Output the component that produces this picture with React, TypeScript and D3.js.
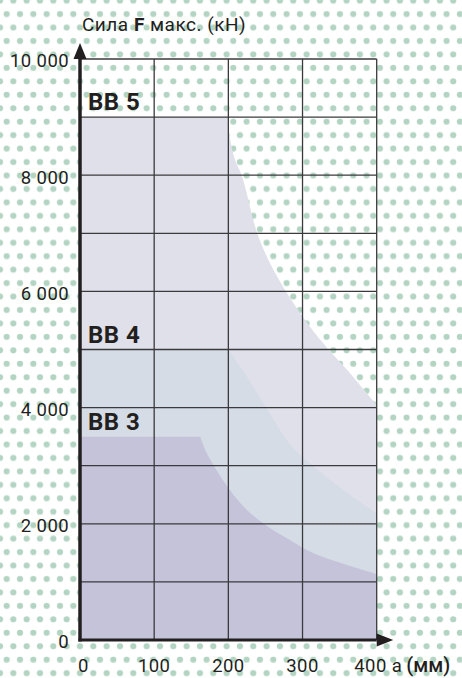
import React from 'react';
import * as d3 from 'd3';

// chart data
const xTicks = [0, 100, 200, 300, 400];
const xTickLabels = ['0', '100', '200', '300', '400'];
const yTicks = [0, 2000, 4000, 6000, 8000, 10000];
const yTickLabels = ['0', '2 000', '4 000', '6 000', '8 000', '10 000'];
const gridF = [1000, 2000, 3000, 4000, 5000, 6000, 7000, 8000, 9000, 10000];

const seriesNames = ['BB 5', 'BB 4', 'BB 3'];
const seriesColors = ['#e0e0ea', '#d5dce5', '#c5c3da'];

// a (мм) / F (кН): flat top then falling curve
const bb5A = [0, 200, 201, 209, 218, 238, 254, 270, 285, 310, 333, 360, 400];
const bb5F = [9000, 9000, 8730, 8260, 8000, 7040, 6540, 6160, 5850, 5390, 5030, 4650, 4040];
const bb4A = [0, 200, 222, 252, 279, 297, 319, 355, 400];
const bb4F = [5000, 5000, 4590, 3976, 3440, 3184, 2943, 2582, 2181];
const bb3A = [0, 162, 171, 184, 202, 225, 252, 283, 315, 360, 400];
const bb3F = [3500, 3500, 3213, 2926, 2582, 2238, 1962, 1721, 1492, 1291, 1136];

const W = 462, H = 678;
const INK = '#231f20';
const FONT = "Roboto, 'DejaVu Sans', sans-serif";

const x = d3.scaleLinear().domain([0, 400]).range([80, 376.7]);
const y = d3.scaleLinear().domain([0, 10000]).range([640, 59]);

const curveLine = d3.line<[number, number]>()
    .x(d => x(d[0]))
    .y(d => y(d[1]))
    .curve(d3.curveCatmullRom.alpha(0.5));

// closed region: baseline -> flat top -> curve -> right edge
const regionPath = (as: number[], fs: number[]) => {
    const pts = as.map((a, i) => [a, fs[i]] as [number, number]);
    const curve = (curveLine(pts.slice(1)) || '').replace(/^M/, 'L');
    return `M${x(0)},${y(0)}L${x(pts[0][0])},${y(pts[0][1])}${curve}L${x(400)},${y(0)}Z`;
};

const series = [
    { a: bb5A, f: bb5F },
    { a: bb4A, f: bb4F },
    { a: bb3A, f: bb3F },
];

export default function App() {
    const x0 = x(0), x1 = x(400), y0 = y(0), y1 = y(10000);

    return (
        <svg width={W} height={H} viewBox={`0 0 ${W} ${H}`}
            style={{ position: 'absolute', left: 0, top: 0, display: 'block', background: '#fff' }}>
            <defs>
                <pattern id="dots" patternUnits="userSpaceOnUse" x={0} y={7.3} width={13.33} height={26.9}>
                    <circle cx={6.67} cy={6.72} r={3.1} fill="#b3d4c2" />
                    <circle cx={0} cy={20.17} r={3.1} fill="#b3d4c2" />
                    <circle cx={13.33} cy={20.17} r={3.1} fill="#b3d4c2" />
                </pattern>
            </defs>
            <rect width={W} height={H} fill="#fff" />
            <rect width={W} height={H} fill="url(#dots)" />

            {/* capacity regions */}
            {series.map((s, i) => (
                <path key={seriesNames[i]} d={regionPath(s.a, s.f)} fill={seriesColors[i]} />
            ))}

            {/* grid */}
            <g stroke="#3a3a3c" strokeWidth={1.3}>
                {gridF.map(v => <line key={v} x1={x0} x2={x1} y1={y(v)} y2={y(v)} />)}
                {xTicks.slice(1).map(v => <line key={v} x1={x(v)} x2={x(v)} y1={y1} y2={y0} />)}
            </g>

            {/* axes with arrows */}
            <g fill={INK} stroke={INK}>
                <line x1={x0} x2={x0} y1={y0 + 1.5} y2={y1 - 6} strokeWidth={3.5} />
                <line x1={x0 - 1.5} x2={x1} y1={y0} y2={y0} strokeWidth={3.2} />
                <path d={`M${x0},${y1 - 16}L${x0 - 6.5},${y1}L${x0 + 6.5},${y1}Z`} stroke="none" />
                <path d={`M${x1 + 16.5},${y0}L${x1},${y0 - 6.5}L${x1},${y0 + 6.5}Z`} stroke="none" />
            </g>

            {/* y tick labels */}
            <g fontFamily={FONT} fontSize={18.5} fontWeight={400} fill={INK} textAnchor="end">
                {yTicks.map((v, i) => (
                    <text key={v} x={x0 - 11} y={y(v) + 2} dy="0.35em" letterSpacing={0.4}>{yTickLabels[i]}</text>
                ))}
            </g>

            {/* x tick labels */}
            <g fontFamily={FONT} fontSize={18.5} fontWeight={400} fill={INK}>
                {xTicks.map((v, i) => {
                    const anchor = i === 0 ? 'start' : i === xTicks.length - 1 ? 'end' : 'middle';
                    const dx = i === 0 ? -2 : i === xTicks.length - 1 ? 10 : 0;
                    return (
                        <text key={v} x={x(v) + dx} y={672} textAnchor={anchor} letterSpacing={0.4}>{xTickLabels[i]}</text>
                    );
                })}
                <text x={x1 + 15} y={672}>a <tspan fontWeight={500} fontSize={20}>(мм)</tspan></text>
            </g>

            {/* axis title */}
            <text x={82} y={31} fontFamily={FONT} fontSize={19} fontWeight={400} fill={INK} letterSpacing={0.5}>
                Сила <tspan fontWeight={700}>F</tspan> макс. (кН)
            </text>

            {/* series labels */}
            <g fontFamily={FONT} fontSize={24} fontWeight={700} fill={INK}>
                {series.map((s, i) => (
                    <text key={seriesNames[i]} x={x0 + 8} y={y(s.f[0]) - 7} letterSpacing={0.5}>{seriesNames[i]}</text>
                ))}
            </g>
        </svg>
    );
}
